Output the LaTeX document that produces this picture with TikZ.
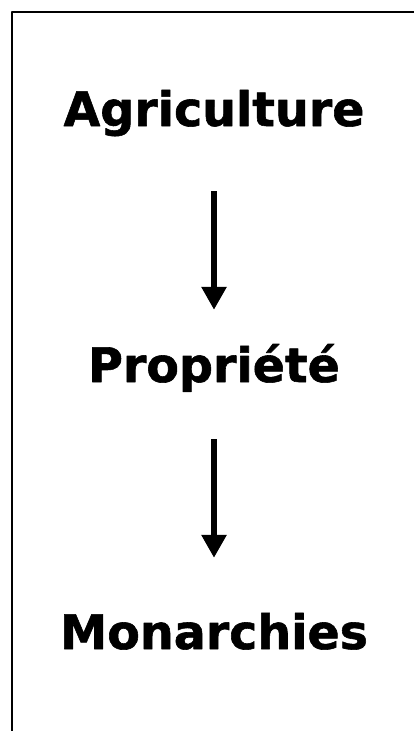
\documentclass[tikz,border=0pt]{standalone}
\usepackage{fontspec}
\setmainfont{DejaVu Sans}[BoldFeatures={FakeBold=1.2}]
\usetikzlibrary{arrows.meta}
\begin{document}
\begin{tikzpicture}[x=1pt,y=-1pt,line join=round,
	mot/.style={font=\fontsize{47.5}{57}\selectfont\bfseries,inner sep=0pt,text height=36pt,text depth=0pt,anchor=base},
	fleche/.style={line width=6.5pt,-{Triangle[width=24pt,length=23pt]}}]
	%==Phần thông số có thể tùy chỉnh
	\def\xc{214}
	\def\lw{2.4pt}
	%==============
	\useasboundingbox (0,0) rectangle (413,731);
	\draw[line width=\lw] (12,745)--(12,12)--(425,12);
	\node[mot] (A) at (\xc,126) {Agriculture};
	\node[mot] (P) at (\xc,382) {Propriété};
	\node[mot] (M) at (\xc,649) {Monarchies};
	\draw[fleche,shorten <=65pt,shorten >=36pt] (A.south)--(P.north);
	\draw[fleche,shorten <=57pt,shorten >=55pt] (P.south)--(M.north);
\end{tikzpicture}
\end{document}
